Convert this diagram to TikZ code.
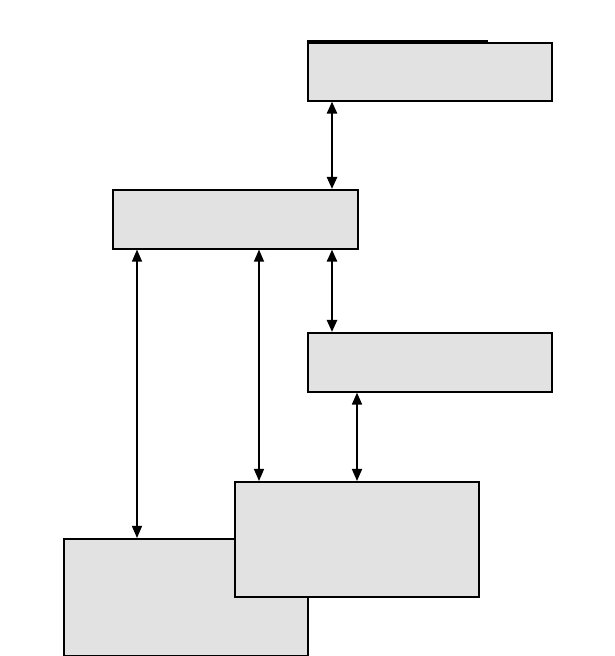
\documentclass[tikz,border=0pt]{standalone}
\usetikzlibrary{arrows.meta}
\definecolor{boxGray}{HTML}{E2E2E2}

\tikzset{
  box/.style={rectangle, draw, line width=1.6pt, fill=boxGray, anchor=north west,
    inner sep=0pt, minimum width=244pt, minimum height=58pt},
  link/.style={{Triangle[width=10pt,length=12pt]}-{Triangle[width=10pt,length=12pt]}, line width=1.3pt},
  boldlink/.style={link, line width=2.4pt}
}

\begin{document}
\begin{tikzpicture}[x=1pt, y=1pt]
            \useasboundingbox (0,0) rectangle (615,656);

            \node[box] (A) at (307,614) {};
            \node[box, minimum width=245pt, minimum height=59pt] (B) at (112,467) {};
            \node[box, minimum height=59pt] (C) at (307,324) {};
            \node[box, minimum height=117pt] (E) at (63,118) {};
            \node[box, minimum height=115pt] (D) at (234,175) {};

            \draw[line width=1.6pt] ([yshift=1pt]A.north west) -- ++(181,0);

            \path
                ([xshift=25pt]A.south west) edge[boldlink] ([xshift=25pt]A.south west |- B.north)
                ([xshift=25pt]C.north west |- B.south) edge[boldlink] ([xshift=25pt]C.north west)

                ([xshift=25pt]B.south west) edge[link] ([xshift=25pt]B.south west |- E.north)
                ([xshift=25pt]D.north west |- B.south) edge[link] ([xshift=25pt]D.north west)

                ([xshift=50pt]C.south west) edge[link, line width=1.7pt] ([xshift=50pt]C.south west |- D.north)
            ;
\end{tikzpicture}
\end{document}
